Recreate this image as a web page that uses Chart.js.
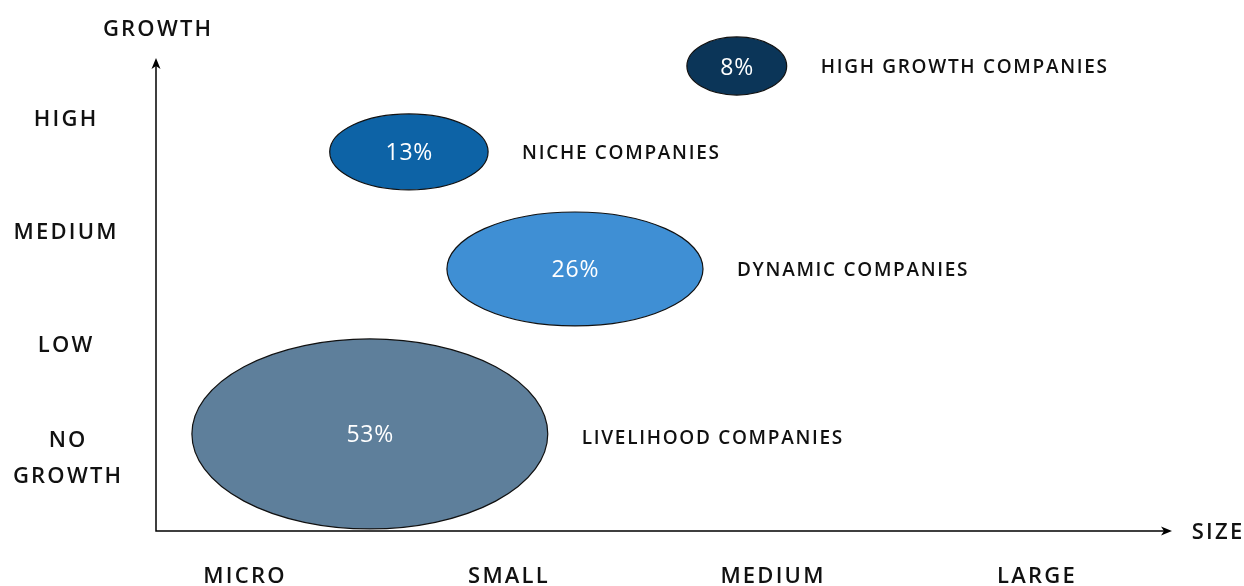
<!DOCTYPE html>
<html>
<head>
<meta charset="utf-8">
<script src="https://cdn.jsdelivr.net/npm/chart.js@4/dist/chart.umd.min.js"></script>
<style>
  html, body { margin: 0; padding: 0; background: #fff; }
  #wrap { width: 1244px; height: 586px; position: relative; }
</style>
</head>
<body>
<div id="wrap"><canvas id="segmentChart"></canvas></div>
<script>
// axis categories
const sizeTicks = ['MICRO', 'SMALL', 'MEDIUM', 'LARGE'];
const growthTicks = [['NO', 'GROWTH'], 'LOW', 'MEDIUM', 'HIGH'];

// company segments (share of companies, centre and half extents in axis units)
const segments = ['LIVELIHOOD COMPANIES', 'DYNAMIC COMPANIES', 'NICHE COMPANIES', 'HIGH GROWTH COMPANIES'];
const shares = [53, 26, 13, 8];
const sizePos = [0.477, 1.254, 0.625, 1.867];
const growthPos = [0.204, 1.664, 2.70, 3.46];
const halfSize = [0.674, 0.485, 0.30, 0.189];
const halfGrowth = [0.841, 0.504, 0.336, 0.257];

const fills = ['#5e7f9b', '#3f8fd4', '#0d63a6', '#0b3558'];
const FONT = '"Open Sans", "Noto Sans", sans-serif';

// text with letter spacing, centred on x regardless of trailing spacing
function spacedText(ctx, text, x, y, spacing, align) {
  ctx.letterSpacing = spacing + 'px';
  const w = ctx.measureText(text).width - spacing;
  let left = x;
  if (align === 'center') left = x - w / 2;
  else if (align === 'right') left = x - w;
  ctx.textAlign = 'left';
  // middle baseline sits a little high for caps, nudge down
  ctx.fillText(text, left, y + 2);
  ctx.letterSpacing = '0px';
}

function arrowHead(ctx, x, y, dir) {
  // dir: 'up' or 'right'
  ctx.save();
  ctx.translate(x, y);
  if (dir === 'right') ctx.rotate(Math.PI / 2);
  ctx.beginPath();
  ctx.moveTo(0, 0);
  ctx.lineTo(4.5, 11);
  ctx.lineTo(0, 8);
  ctx.lineTo(-4.5, 11);
  ctx.closePath();
  ctx.fill();
  ctx.restore();
}

const segmentPlugin = {
  id: 'segmentPlugin',
  afterDatasetsDraw(chart) {
    const { ctx, chartArea: a, scales: { x, y } } = chart;
    ctx.save();

    // axes with arrows
    ctx.strokeStyle = '#000';
    ctx.fillStyle = '#000';
    ctx.lineWidth = 1.5;
    ctx.beginPath();
    ctx.moveTo(a.left, a.top + 6);
    ctx.lineTo(a.left, a.bottom);
    ctx.lineTo(a.right - 6, a.bottom);
    ctx.stroke();
    arrowHead(ctx, a.left, a.top - 2, 'up');
    arrowHead(ctx, a.right + 2, a.bottom, 'right');

    // ellipses
    segments.forEach((name, i) => {
      const cx = x.getPixelForValue(sizePos[i]);
      const cy = y.getPixelForValue(growthPos[i]);
      const rx = Math.abs(x.getPixelForValue(sizePos[i] + halfSize[i]) - cx);
      const ry = Math.abs(y.getPixelForValue(growthPos[i] + halfGrowth[i]) - cy);
      ctx.beginPath();
      ctx.ellipse(cx, cy, rx, ry, 0, 0, Math.PI * 2);
      ctx.fillStyle = fills[i];
      ctx.fill();
      ctx.lineWidth = 1.2;
      ctx.strokeStyle = '#111';
      ctx.stroke();

      ctx.fillStyle = '#fff';
      ctx.textBaseline = 'middle';
      ctx.font = '500 23px ' + FONT;
      spacedText(ctx, shares[i] + '%', cx, cy, 0.8, 'center');

      ctx.fillStyle = '#111';
      ctx.font = '600 19px ' + FONT;
      spacedText(ctx, name, cx + rx + 34, cy + (i === 0 ? 3 : 0), 1.7, 'left');
    });

    // tick labels
    ctx.fillStyle = '#111';
    ctx.textBaseline = 'middle';
    ctx.font = '600 22px ' + FONT;
    sizeTicks.forEach((t, i) => {
      spacedText(ctx, t, x.getPixelForValue(i), a.bottom + 44, 2.2, 'center');
    });
    growthTicks.forEach((t, i) => {
      const py = y.getPixelForValue(i);
      if (Array.isArray(t)) {
        const gap = 36;
        t.forEach((line, k) => {
          spacedText(ctx, line, 67, py + (k - (t.length - 1) / 2) * gap, 2.2, 'center');
        });
      } else {
        spacedText(ctx, t, 65, py, 2.2, 'center');
      }
    });

    // axis titles
    spacedText(ctx, 'GROWTH', a.left + 1, 28, 2.2, 'center');
    spacedText(ctx, 'SIZE', a.right + 47, a.bottom, 2.2, 'center');

    ctx.restore();
  }
};

const ctx = document.getElementById('segmentChart').getContext('2d');

const chart = new Chart(ctx, {
  type: 'scatter',
  data: {
    datasets: [{
      label: 'Segments',
      data: sizePos.map((v, i) => ({ x: v, y: growthPos[i] })),
      pointRadius: 0,
      pointHoverRadius: 0
    }]
  },
  options: {
    responsive: true,
    maintainAspectRatio: false,
    animation: false,
    layout: { padding: { left: 156, right: 74, top: 60, bottom: 55 } },
    plugins: {
      legend: { display: false },
      tooltip: { enabled: false }
    },
    scales: {
      x: { type: 'linear', min: -0.333, max: 3.508, display: false },
      y: { type: 'linear', min: -0.655, max: 3.513, display: false }
    }
  },
  plugins: [segmentPlugin]
});
</script>
</body>
</html>
